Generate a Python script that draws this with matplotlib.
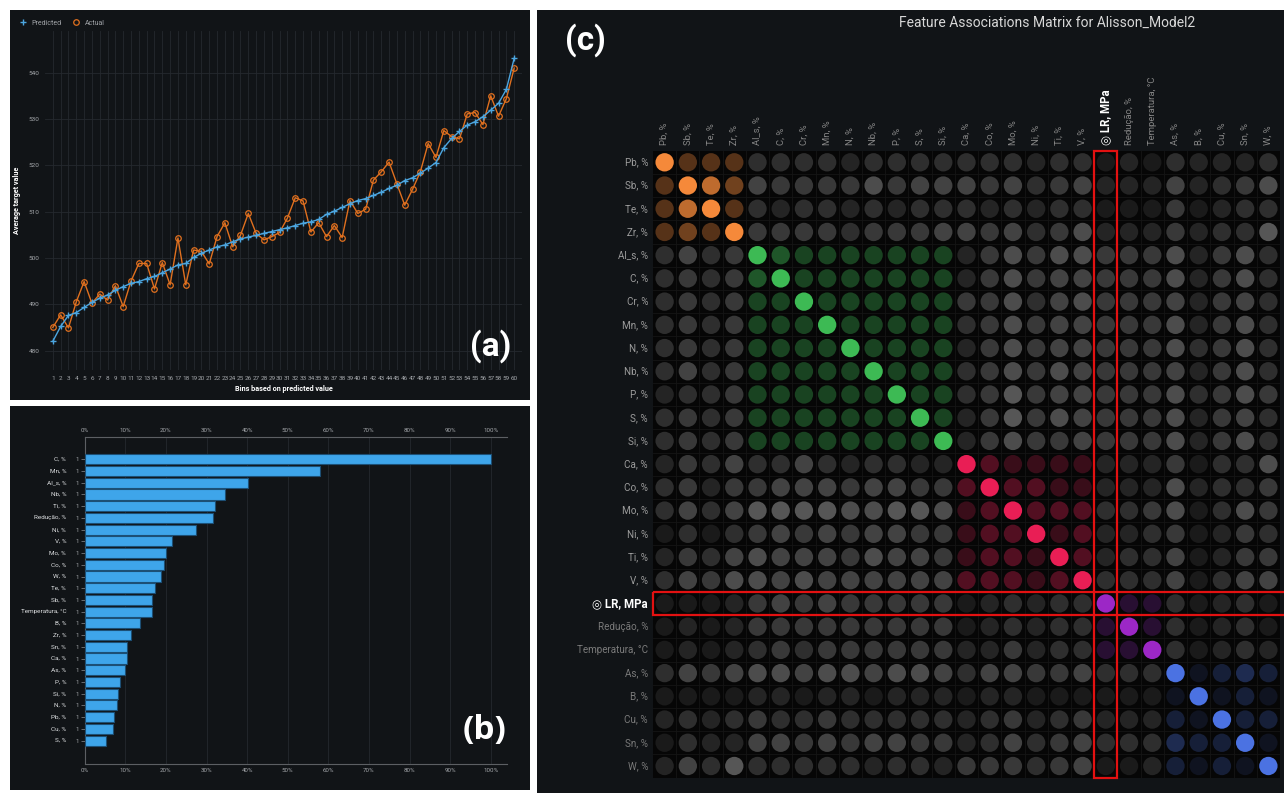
"""Composite figure: lift chart (a), feature impact (b) and feature association matrix (c)."""

import matplotlib

matplotlib.use("Agg")

import matplotlib.pyplot as plt
import matplotlib.transforms as mtransforms
from matplotlib.colors import to_rgb
from matplotlib.lines import Line2D
from matplotlib.patches import Circle, Rectangle

plt.rcParams["font.family"] = ["Roboto", "DejaVu Sans"]

W, H = 1284, 793
PANEL_BG = "#111417"

# ---- (a) lift chart
bins = list(range(1, 61))
predicted = [
    482.0, 485.2, 487.6, 488.2, 489.3, 490.4, 491.3, 492.0, 493.0, 493.8,
    494.5, 494.9, 495.5, 496.0, 496.8, 497.6, 498.5, 498.8, 500.1, 501.0,
    501.7, 502.4, 502.8, 503.5, 504.1, 504.5, 504.9, 505.3, 505.7, 506.1,
    506.5, 507.0, 507.5, 507.8, 508.3, 509.4, 510.1, 510.9, 511.7, 512.4,
    512.8, 513.5, 514.2, 515.0, 515.7, 516.7, 517.3, 518.3, 519.4, 520.6,
    523.8, 525.8, 527.3, 528.7, 529.4, 530.5, 531.9, 533.4, 536.4, 543.1,
]
actual = [
    485.0, 487.7, 484.9, 490.5, 494.9, 490.2, 492.2, 490.9, 494.0, 489.5,
    495.0, 498.8, 498.8, 493.3, 499.0, 494.2, 504.3, 494.2, 501.7, 501.4,
    498.7, 504.6, 507.6, 502.4, 504.9, 509.6, 505.3, 503.9, 504.6, 505.5,
    508.6, 513.0, 512.3, 505.6, 507.6, 504.6, 507.0, 504.4, 512.4, 509.6,
    510.5, 516.8, 518.6, 520.7, 516.0, 511.4, 514.8, 518.6, 524.7, 521.7,
    527.5, 526.2, 525.7, 531.1, 531.4, 528.8, 535.0, 530.6, 534.4, 541.0,
]
lift_yticks = [480, 490, 500, 510, 520, 530, 540]

# ---- (b) feature impact
impact_features = [
    "C, %", "Mn, %", "Al_s, %", "Nb, %", "Ti, %", "Redução, %", "Ni, %", "V, %",
    "Mo, %", "Co, %", "W, %", "Te, %", "Sb, %", "Temperatura, °C", "B, %", "Zr, %",
    "Sn, %", "Ca, %", "As, %", "P, %", "Si, %", "N, %", "Pb, %", "Cu, %", "S, %",
]
impact_pct = [
    100.0, 58.0, 40.3, 34.5, 32.0, 31.6, 27.3, 21.4, 20.1, 19.6, 18.7, 17.2, 16.5,
    16.5, 13.7, 11.5, 10.5, 10.4, 9.9, 8.8, 8.1, 8.0, 7.1, 6.9, 5.2,
]
impact_ticks = [0, 10, 20, 30, 40, 50, 60, 70, 80, 90, 100]

# ---- (c) feature association matrix
matrix_labels = [
    "Pb, %", "Sb, %", "Te, %", "Zr, %", "Al_s, %", "C, %", "Cr, %", "Mn, %", "N, %",
    "Nb, %", "P, %", "S, %", "Si, %", "Ca, %", "Co, %", "Mo, %", "Ni, %", "Ti, %",
    "V, %", "◎ LR, MPa", "Redução, %", "Temperatura, °C", "As, %", "B, %", "Cu, %",
    "Sn, %", "W, %",
]
target_index = 19
matrix_groups = [0] * 4 + [1] * 9 + [2] * 6 + [3] * 3 + [4] * 5
group_colors = ["#f5893a", "#3dba54", "#e91e55", "#9c27c6", "#4b72e2"]
# strength 1..10 (10 = diagonal)
association = [
    [10, 3, 3, 3, 3, 3, 3, 3, 2, 3, 3, 3, 3, 3, 3, 3, 2, 3, 3, 1, 2, 1, 3, 2, 2, 2, 3],
    [3, 10, 7, 4, 5, 4, 4, 4, 4, 6, 4, 5, 5, 5, 4, 5, 3, 4, 5, 2, 2, 2, 5, 2, 3, 4, 6],
    [3, 7, 10, 3, 3, 2, 3, 3, 2, 3, 2, 3, 3, 3, 2, 3, 2, 3, 3, 1, 1, 1, 4, 1, 2, 3, 3],
    [3, 4, 3, 10, 4, 4, 4, 4, 3, 4, 4, 4, 5, 5, 4, 5, 3, 4, 6, 2, 2, 2, 4, 2, 3, 3, 7],
    [3, 5, 3, 4, 10, 4, 3, 3, 3, 3, 3, 3, 3, 2, 4, 6, 4, 6, 6, 4, 4, 4, 6, 2, 4, 6, 3],
    [3, 4, 3, 4, 4, 10, 3, 3, 3, 3, 3, 3, 3, 2, 4, 6, 4, 5, 5, 4, 4, 4, 6, 2, 4, 6, 3],
    [3, 4, 3, 4, 3, 3, 10, 3, 3, 3, 3, 3, 3, 4, 4, 6, 3, 5, 6, 4, 4, 4, 5, 2, 4, 5, 3],
    [3, 4, 3, 4, 3, 3, 3, 10, 3, 3, 3, 3, 3, 3, 4, 6, 4, 5, 5, 4, 4, 4, 6, 2, 4, 6, 3],
    [3, 4, 3, 4, 3, 3, 3, 3, 10, 3, 3, 3, 3, 2, 4, 6, 4, 5, 5, 4, 4, 4, 6, 3, 4, 6, 3],
    [3, 5, 3, 4, 3, 3, 3, 3, 3, 10, 3, 3, 3, 3, 4, 6, 4, 6, 5, 4, 4, 4, 5, 2, 4, 6, 3],
    [2, 3, 3, 4, 3, 3, 3, 3, 3, 3, 10, 3, 3, 3, 4, 7, 4, 5, 5, 4, 4, 4, 6, 3, 4, 6, 4],
    [3, 4, 3, 4, 3, 3, 3, 3, 3, 3, 3, 10, 3, 2, 4, 7, 4, 6, 5, 4, 4, 4, 6, 2, 4, 5, 3],
    [3, 4, 3, 4, 3, 3, 3, 3, 3, 3, 3, 3, 10, 2, 4, 6, 4, 4, 5, 4, 4, 4, 6, 2, 4, 6, 3],
    [2, 4, 3, 5, 3, 3, 5, 3, 2, 3, 3, 2, 2, 10, 3, 2, 2, 2, 2, 2, 2, 2, 4, 1, 3, 3, 6],
    [3, 4, 2, 4, 4, 5, 5, 5, 4, 5, 5, 4, 4, 3, 10, 3, 3, 2, 2, 2, 2, 2, 6, 2, 3, 3, 4],
    [3, 5, 3, 5, 7, 7, 7, 7, 6, 6, 7, 7, 6, 2, 3, 10, 3, 3, 3, 3, 3, 4, 6, 1, 3, 6, 4],
    [1, 3, 1, 3, 4, 5, 4, 5, 4, 5, 5, 4, 4, 2, 3, 3, 10, 2, 3, 2, 2, 3, 4, 1, 2, 4, 3],
    [2, 4, 3, 5, 6, 5, 5, 5, 4, 6, 5, 5, 4, 2, 3, 3, 2, 10, 3, 2, 3, 3, 5, 1, 2, 4, 4],
    [3, 5, 4, 6, 6, 5, 6, 5, 5, 5, 5, 5, 5, 3, 3, 3, 2, 3, 10, 3, 3, 3, 5, 1, 3, 5, 5],
    [1, 1, 1, 2, 4, 5, 4, 5, 4, 4, 4, 4, 4, 1, 2, 3, 2, 3, 3, 10, 2, 2, 3, 1, 2, 3, 1],
    [1, 2, 1, 2, 4, 4, 4, 4, 4, 4, 4, 4, 4, 1, 2, 3, 2, 3, 3, 2, 10, 2, 3, 1, 2, 3, 1],
    [1, 2, 1, 2, 3, 4, 3, 4, 4, 4, 4, 4, 4, 2, 2, 4, 2, 3, 3, 2, 2, 10, 3, 1, 2, 3, 2],
    [3, 5, 4, 5, 6, 6, 5, 6, 6, 5, 6, 6, 5, 3, 5, 5, 4, 4, 5, 3, 3, 3, 10, 1, 2, 3, 2],
    [1, 1, 1, 1, 2, 2, 1, 2, 2, 1, 2, 2, 2, 1, 2, 2, 1, 1, 1, 1, 1, 1, 1, 10, 1, 2, 1],
    [2, 3, 2, 3, 4, 3, 3, 4, 3, 3, 3, 3, 3, 2, 3, 4, 2, 3, 4, 2, 2, 2, 2, 1, 10, 2, 2],
    [1, 3, 2, 2, 5, 5, 4, 5, 4, 5, 5, 4, 4, 2, 3, 5, 3, 4, 5, 3, 3, 3, 3, 2, 2, 10, 1],
    [2, 5, 3, 7, 3, 3, 3, 3, 3, 2, 3, 3, 2, 4, 4, 4, 3, 4, 5, 1, 1, 2, 2, 1, 2, 1, 10],
]


def fig_box(x0, y0, x1, y1):
    """Pixel box (top-left origin) to figure-fraction rect."""
    return [x0 / W, 1 - y1 / H, (x1 - x0) / W, (y1 - y0) / H]


def cell_color(i, j, value):
    if matrix_groups[i] == matrix_groups[j]:
        base = to_rgb(group_colors[matrix_groups[i]])
        alpha = 1.0 if value >= 10 else min(1.0, value / 10 * 1.1)
        return tuple(0.03 * (1 - alpha) + b * alpha for b in base)
    g = (0x10 + value * 0x0A) / 255
    return (g, g, g)


fig = plt.figure(figsize=(W / 100, H / 100), dpi=100, facecolor="white")
for x0, y0, x1, y1 in [(10, 10, 530, 400), (10, 406, 530, 790), (537, 10, 1284, 793)]:
    x, y, w, h = fig_box(x0, y0, x1, y1)
    fig.patches.append(Rectangle((x, y), w, h, transform=fig.transFigure,
                                 facecolor=PANEL_BG, edgecolor="none", zorder=-10))

# ---------------- (a)
ax_a = fig.add_axes(fig_box(45, 31, 522, 370))
ax_a.set_facecolor(PANEL_BG)
ax_a.plot(bins, actual, color="#e0701f", lw=1.0, marker="o", ms=4, mfc="none", mew=0.9, zorder=3)
ax_a.plot(bins, predicted, color="#4ca6e0", lw=1.0, marker="+", ms=5, mew=1.0, zorder=4)
ax_a.set_xlim(0, 61)
ax_a.set_ylim(475.8, 549)
ax_a.set_xticks(bins)
ax_a.set_xticklabels([str(b) for b in bins], fontsize=4.6, color="#a4a7ab")
ax_a.set_yticks(lift_yticks)
ax_a.set_yticklabels([str(v) for v in lift_yticks], fontsize=4.6, color="#a4a7ab")
ax_a.tick_params(length=0, pad=4)
ax_a.grid(True, color="#25292e", lw=0.6)
for s in ax_a.spines.values():
    s.set_visible(False)
ax_a.set_xlabel("Bins based on predicted value", fontsize=5.2, color="white", weight="bold")
ax_a.xaxis.set_label_coords(0.5, -0.045)
ax_a.set_ylabel("Average target value", fontsize=5.2, color="white", weight="bold")
ax_a.yaxis.set_label_coords(-0.05, 0.5)
handles = [
    Line2D([], [], color="#4ca6e0", marker="+", ls="none", ms=5, mew=1.0),
    Line2D([], [], color="#e0701f", marker="o", ls="none", ms=4, mfc="none", mew=0.9),
]
ax_a.legend(handles, ["Predicted", "Actual"], loc="lower left", bbox_to_anchor=(-0.07, 1.0),
            ncol=2, frameon=False, fontsize=5, labelcolor="#a0a3a7",
            handletextpad=0.3, columnspacing=1.0, borderaxespad=0.2)

# ---------------- (b)
ax_b = fig.add_axes(fig_box(84.7, 437.3, 506.7, 764))
ax_b.set_facecolor(PANEL_BG)
ypos = list(range(len(impact_features)))
ax_b.barh(ypos, impact_pct, height=0.86, color="#3ea5ea", edgecolor="#1c4f75", lw=0.8, zorder=3)
ax_b.set_xlim(0, 103.9)
ax_b.set_ylim(26.0, -1.88)
ax_b.set_xticks(impact_ticks)
ax_b.set_xticklabels([f"{t}%" for t in impact_ticks], fontsize=4.4, color="#a4a7ab")
ax_b.tick_params(axis="x", top=True, labeltop=True, bottom=True, labelbottom=True, length=0, pad=3)
ax_b.set_yticks(ypos)
ax_b.set_yticklabels(["1"] * len(ypos), fontsize=4.4, color="#a4a7ab")
ax_b.tick_params(axis="y", length=3, width=0.6, color="#777a7e", pad=1)
ax_b.grid(True, axis="x", color="#25292e", lw=0.6)
for side in ["top", "bottom", "left"]:
    ax_b.spines[side].set_color("#5c5f63")
    ax_b.spines[side].set_linewidth(0.8)
ax_b.spines["right"].set_visible(False)
lab_tr = mtransforms.blended_transform_factory(ax_b.transAxes, ax_b.transData)
for y, name in zip(ypos, impact_features):
    ax_b.text(-0.044, y, name, transform=lab_tr, ha="right", va="center",
              fontsize=4.6, color="#dcdee0")

# ---------------- (c)
ax_c = fig.add_axes(fig_box(653, 150.7, 1280, 777.6))
ax_c.set_facecolor("#060606")
n = len(matrix_labels)
ax_c.set_xlim(-0.5, n - 0.5)
ax_c.set_ylim(n - 0.5, -0.5)
ax_c.set_xticks([])
ax_c.set_yticks([])
for s in ax_c.spines.values():
    s.set_visible(False)
for k in range(1, n):
    ax_c.axhline(k - 0.5, color="#151515", lw=0.6, zorder=1)
    ax_c.axvline(k - 0.5, color="#151515", lw=0.6, zorder=1)
for i, row in enumerate(association):
    for j, v in enumerate(row):
        ax_c.add_patch(Circle((j, i), 0.395, facecolor=cell_color(i, j, v),
                              edgecolor="none", zorder=2))

for i, name in enumerate(matrix_labels):
    if i == target_index:
        ax_c.text(-0.72, i, name, ha="right", va="center", fontsize=8.3,
                  weight="bold", color="white")
        ax_c.text(i, -0.75, name, rotation=90, ha="center", va="bottom",
                  fontsize=8.3, weight="bold", color="white")
    else:
        row_color = "#9c9c9c" if i < target_index else "#7a7a7a"
        ax_c.text(-0.72, i, name, ha="right", va="center", fontsize=7.1, color=row_color)
        ax_c.text(i, -0.75, name, rotation=90, ha="center", va="bottom",
                  fontsize=6.8, color="#858585")

red = "#e31111"
ax_c.add_patch(Rectangle((target_index - 0.5, -0.5), 1, n, fill=False, ec=red,
                         lw=1.6, zorder=5, clip_on=False))
ax_c.add_patch(Rectangle((-0.5, target_index - 0.5), n + 1.5, 1, fill=False, ec=red,
                         lw=1.6, zorder=5, clip_on=False))

fig.text(1047 / W, 1 - 23 / H, "Feature Associations Matrix for Alisson_Model2",
         ha="center", va="center", fontsize=10, color="#d8d8d8")

# panel tags
fig.text(491 / W, 1 - 346 / H, "(a)", ha="center", va="center", fontsize=24,
         weight="bold", color="white")
fig.text(485 / W, 1 - 730 / H, "(b)", ha="center", va="center", fontsize=24,
         weight="bold", color="white", family=["Open Sans", "DejaVu Sans"])
fig.text(585 / W, 1 - 40 / H, "(c)", ha="center", va="center", fontsize=24,
         weight="bold", color="white")

fig.savefig("out.png", dpi=100, facecolor="white")
